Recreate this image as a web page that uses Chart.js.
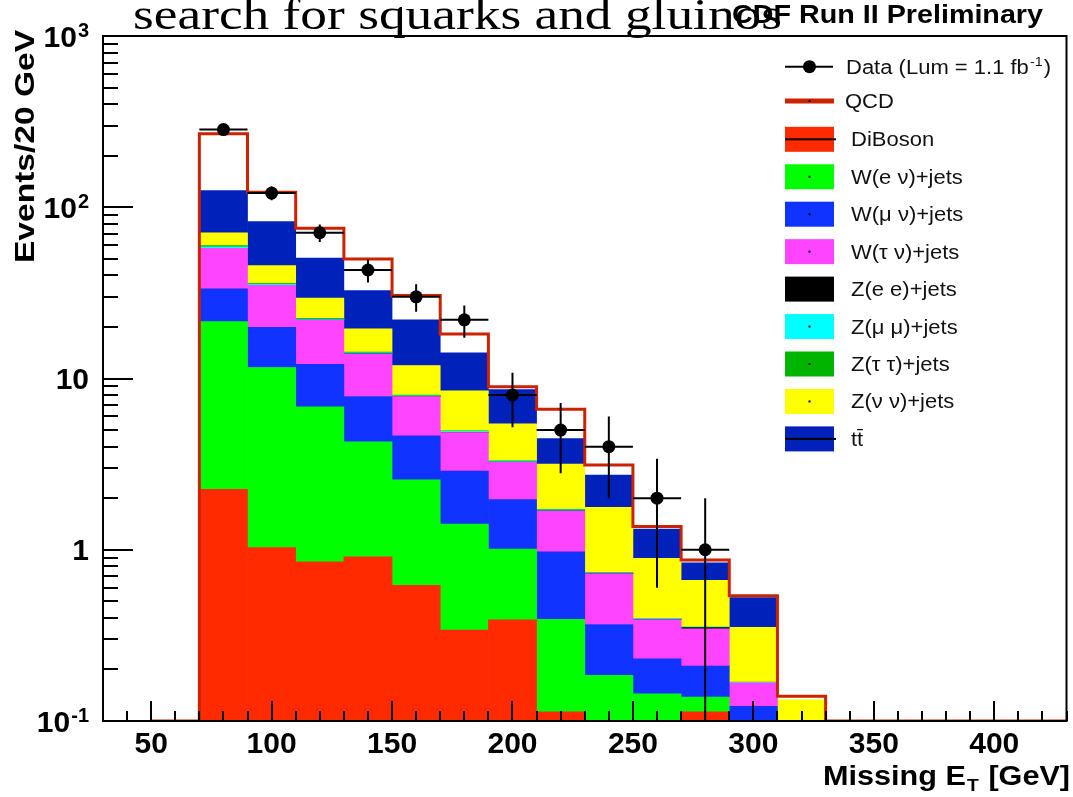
<!DOCTYPE html>
<html>
<head>
<meta charset="utf-8">
<script src="https://cdn.jsdelivr.net/npm/chart.js@4.4.1/dist/chart.umd.min.js"></script>
<style>
  html, body { margin: 0; padding: 0; background: #fff; }
  canvas { display: block; }
</style>
</head>
<body>
<canvas id="c" width="1073" height="797"></canvas>
<script>
// ---------------- data ----------------
const binCenters      = [80, 100, 120, 140, 160, 180, 200, 220, 240, 260, 280, 300, 320];
const emptyBinCenters = [60, 340, 360, 380, 400, 420];
const binWidth = 20;

const diboson = [2.25, 1.03, 0.85, 0.91, 0.62, 0.34, 0.39, 0.113, 0, 0, 0.113, 0, 0];
const wenu    = [19.25, 10.57, 5.98, 3.36, 1.94, 1.07, 0.62, 0.279, 0.185, 0.144, 0.025, 0, 0];
const wmunu   = [11.9, 8.3, 5.27, 3.58, 2.06, 1.47, 0.95, 0.581, 0.181, 0.087, 0.071, 0.122, 0];
const wtaunu  = [24.1, 15.1, 9.8, 6.05, 3.23, 1.95, 1.28, 0.707, 0.36, 0.16, 0.136, 0.045, 0];
const zee     = [0.1, 0.05, 0.03, 0.02, 0.01, 0.01, 0.01, 0.005, 0.003, 0.002, 0.006, 0, 0];
const zmumu   = [1.1, 0.5, 0.3, 0.2, 0.05, 0.08, 0.04, 0.025, 0.005, 0.003, 0.002, 0.001, 0];
const ztautau = [1.0, 0.35, 0.2, 0.15, 0.1, 0.03, 0.02, 0.01, 0.003, 0.002, 0.001, 0.001, 0];
const znunu   = [11.1, 9.7, 7.1, 5.23, 3.9, 3.53, 2.13, 1.44, 1.03, 0.494, 0.308, 0.183, 0.133];
const ttbar   = [54.2, 36.8, 20.9, 13.1, 10.1, 5.63, 3.17, 1.30, 0.96, 0.43, 0.177, 0.174, 0];
const qcd     = [144, 40, 24.9, 17.3, 8.5, 4.1, 0.34, 2.16, 0.40, 0.045, 0.031, 0.012, 0.0065];

const dataX   = [80, 100, 120, 140, 160, 180, 200, 220, 240, 260, 280];
const dataY   = [284, 121, 71, 43, 30, 22, 8, 5, 4, 2, 1];
const dataErr = [16.9, 11, 8.4, 6.6, 5.5, 4.7, 2.8, 2.2, 2, 1.4, 1];

const seriesNames = ['DiBoson', 'W(e \u03bd)+jets', 'W(\u03bc \u03bd)+jets', 'W(\u03c4 \u03bd)+jets',
                     'Z(e e)+jets', 'Z(\u03bc \u03bc)+jets', 'Z(\u03c4 \u03c4)+jets', 'Z(\u03bd \u03bd)+jets', 'tt\u0304'];
const dataLabelMain = 'Data (Lum = 1.1 fb';
const dataLabelSup  = '-1';
const dataLabelEnd  = ')';
const qcdLabel = 'QCD';

const xTickLabels = [50, 100, 150, 200, 250, 300, 350, 400];
const yDecades    = [0.1, 1, 10, 100, 1000];
const yTickBase   = ['10', '1', '10', '10', '10'];
const yTickExp    = ['-1', '', '', '2', '3'];

const titleText = 'search for squarks and gluinos';
const cdfText   = 'CDF Run II Preliminary';
const yTitle    = 'Events/20 GeV';

// ---------------- styling ----------------
const SANS  = '"Liberation Sans", Arial, Helvetica, sans-serif';
const SERIF = '"Liberation Serif", "Times New Roman", Times, serif';
const seriesColors = ['#ff2a00', '#00ff00', '#1133ff', '#ff44ff', '#000000', '#00ffff', '#00b400', '#ffff00', '#0022bb'];
const qcdColor = '#cc2200';
const X_MIN = 30, X_MAX = 430, Y_MIN = 0.1, Y_MAX = 1000;

const seriesValues = [diboson, wenu, wmunu, wtaunu, zee, zmumu, ztautau, znunu, ttbar];

// totals of the stack (top of the QCD outline)
const totals = binCenters.map((_, i) => seriesValues.reduce((s, arr) => s + arr[i], 0) + qcd[i]);

// outline points built from bins
const allBins = binCenters.map((c, i) => ({ c, v: totals[i] }))
  .concat(emptyBinCenters.map(c => ({ c, v: Y_MIN })))
  .sort((a, b) => a.c - b.c);
const outlinePts = [];
allBins.forEach(b => {
  outlinePts.push({ x: b.c - binWidth / 2, y: b.v });
  outlinePts.push({ x: b.c + binWidth / 2, y: b.v });
});

// error bars (vertical + horizontal), broken by nulls
const errPts = [];
dataX.forEach((x, i) => {
  errPts.push({ x, y: Math.max(dataY[i] - dataErr[i], Y_MIN) });
  errPts.push({ x, y: dataY[i] + dataErr[i] });
  errPts.push({ x, y: null });
  errPts.push({ x: x - binWidth / 2, y: dataY[i] });
  errPts.push({ x: x + binWidth / 2, y: dataY[i] });
  errPts.push({ x, y: null });
});

const datasets = [];
datasets.push({
  type: 'line', label: 'Data', stack: 'data',
  data: dataX.map((x, i) => ({ x, y: dataY[i] })),
  showLine: false, pointRadius: 6.5, pointHoverRadius: 6.5,
  pointBackgroundColor: '#000', pointBorderColor: '#000', pointBorderWidth: 0, order: 0
});
datasets.push({
  type: 'line', label: 'errors', stack: 'err', data: errPts,
  borderColor: '#000', borderWidth: 2, pointRadius: 0, spanGaps: false, tension: 0, fill: false, order: 1
});
datasets.push({
  type: 'line', label: qcdLabel, stack: 'outline', data: outlinePts,
  borderColor: qcdColor, borderWidth: 3, pointRadius: 0, tension: 0, fill: false, order: 2,
  borderJoinStyle: 'miter', borderCapStyle: 'butt'
});
seriesValues.forEach((vals, k) => {
  datasets.push({
    type: 'bar', label: seriesNames[k], stack: 'bkg',
    data: binCenters.map((x, i) => ({ x, y: vals[i] })),
    backgroundColor: seriesColors[k], borderWidth: 0,
    barPercentage: 1, categoryPercentage: 1, order: 3 + k
  });
});

// ---------------- text helpers ----------------
function drawFitted(ctx, txt, x, y, font, targetW, align) {
  ctx.save();
  ctx.font = font;
  const w = ctx.measureText(txt).width;
  const sx = targetW ? targetW / w : 1;
  ctx.translate(x, y);
  ctx.scale(sx, 1);
  ctx.textAlign = 'left';
  ctx.textBaseline = 'alphabetic';
  const x0 = align === 'right' ? -w : (align === 'center' ? -w / 2 : 0);
  ctx.fillText(txt, x0, 0);
  ctx.restore();
}

const decor = {
  id: 'decor',
  afterDraw(chart) {
    const { ctx, chartArea: a, scales: { x, y } } = chart;
    ctx.save();
    ctx.fillStyle = '#000';
    ctx.strokeStyle = '#000';
    ctx.lineWidth = 2;
    // inward tick marks (y: decades long, 2..9 short)
    y.ticks.forEach(t => {
      const py = Math.round(y.getPixelForValue(t.value));
      const major = yDecades.some(d => Math.abs(d - t.value) < 1e-9);
      ctx.beginPath(); ctx.moveTo(a.left, py); ctx.lineTo(a.left + (major ? 30 : 15), py); ctx.stroke();
    });
    // x: minor marks every 10 GeV, major on labelled values
    for (let v = X_MIN; v <= X_MAX; v += 10) {
      const px = Math.round(x.getPixelForValue(v));
      const major = xTickLabels.includes(v);
      ctx.beginPath(); ctx.moveTo(px, a.bottom); ctx.lineTo(px, a.bottom - (major ? 20 : 10)); ctx.stroke();
    }
    // frame
    ctx.strokeRect(a.left, a.top, a.right - a.left, a.bottom - a.top);

    // y tick labels with superscript exponents
    yDecades.forEach((d, i) => {
      const py = y.getPixelForValue(d);
      const right = a.left - 14;
      ctx.save();
      ctx.textBaseline = 'alphabetic';
      ctx.textAlign = 'left';
      ctx.font = 'bold 20px ' + SANS;
      const we = yTickExp[i] ? ctx.measureText(yTickExp[i]).width + 1 : 0;
      ctx.font = 'bold 30px ' + SANS;
      const wb = ctx.measureText(yTickBase[i]).width;
      const x0 = right - we - wb;
      ctx.fillText(yTickBase[i], x0, py + 10.5);
      if (yTickExp[i]) {
        ctx.font = 'bold 20px ' + SANS;
        ctx.fillText(yTickExp[i], x0 + wb + 1, py + 1);
      }
      ctx.restore();
    });

    // legend
    const LX0 = 785, LX1 = 834;
    const rowData = 66.7, rowQcd = 101, rowFirst = 139.3, rowStep = 37.45;
    const legFont = '20px ' + SANS;
    const legSx = 1.1;
    function legText(txt, x, yc) {
      ctx.save(); ctx.font = legFont; ctx.fillStyle = '#111';
      ctx.translate(x, yc + 7); ctx.scale(legSx, 1);
      ctx.fillText(txt, 0, 0); ctx.restore();
    }
    // Data entry
    ctx.lineWidth = 2;
    ctx.beginPath(); ctx.moveTo(LX0, rowData); ctx.lineTo(LX1 - 1, rowData); ctx.stroke();
    ctx.beginPath(); ctx.arc((LX0 + LX1) / 2, rowData, 6.5, 0, Math.PI * 2); ctx.fill();
    ctx.save(); ctx.font = legFont; ctx.fillStyle = '#111';
    ctx.translate(846, rowData + 7); ctx.scale(legSx, 1);
    ctx.fillText(dataLabelMain, 0, 0);
    const w1 = ctx.measureText(dataLabelMain).width;
    ctx.font = '13px ' + SANS;
    ctx.fillText(dataLabelSup, w1 + 1, -8);
    const w2 = ctx.measureText(dataLabelSup).width;
    ctx.font = legFont;
    ctx.fillText(dataLabelEnd, w1 + w2 + 2, 0);
    ctx.restore();
    // QCD entry
    ctx.fillStyle = qcdColor;
    ctx.fillRect(LX0, rowQcd - 2.5, LX1 - LX0, 5);
    ctx.fillStyle = '#000';
    ctx.fillRect((LX0 + LX1) / 2 - 1, rowQcd - 1, 2, 2);
    legText(qcdLabel, 845, rowQcd);
    // stacked components
    seriesNames.forEach((name, k) => {
      const yc = rowFirst + k * rowStep;
      ctx.fillStyle = seriesColors[k];
      ctx.fillRect(LX0, yc - 12.5, LX1 - LX0, 25);
      ctx.fillStyle = '#000';
      if (k === 0 || k === seriesNames.length - 1) {
        ctx.fillRect(LX0, yc - 1, LX1 - LX0 + 2, 2);
      } else {
        ctx.fillRect((LX0 + LX1) / 2 - 1, yc - 1, 2, 2);
      }
      legText(name, 851, yc);
    });

    // axis titles
    ctx.fillStyle = '#000';
    ctx.save();
    ctx.translate(34, 263);
    ctx.rotate(-Math.PI / 2);
    ctx.font = 'bold 27px ' + SANS;
    const yw = ctx.measureText(yTitle).width;
    ctx.scale(233 / yw, 1);
    ctx.fillText(yTitle, 0, 0);
    ctx.restore();

    ctx.save();
    const big = 'bold 27px ' + SANS, small = 'bold 17px ' + SANS;
    ctx.font = big; const p1 = 'Missing E', p3 = ' [GeV]';
    const wa = ctx.measureText(p1).width, wc = ctx.measureText(p3).width;
    ctx.font = small; const wb = ctx.measureText('T').width;
    const tot = wa + wb + 2 + wc;
    const sx = 247 / tot;
    ctx.translate(1070 - 247, 785);
    ctx.scale(sx, 1);
    ctx.font = big; ctx.fillText(p1, 0, 0);
    ctx.font = small; ctx.fillText('T', wa + 1, 6);
    ctx.font = big; ctx.fillText(p3, wa + wb + 2, 0);
    ctx.restore();

    // titles
    drawFitted(ctx, cdfText, 732, 23, 'bold 25px ' + SANS, 311, 'left');
    drawFitted(ctx, titleText, 133, 29, '45px ' + SERIF, 649, 'left');
    ctx.restore();
  }
};

new Chart(document.getElementById('c'), {
  type: 'bar',
  data: { datasets },
  options: {
    responsive: false,
    animation: false,
    devicePixelRatio: 1,
    events: [],
    layout: { padding: { top: 36, right: 1, bottom: 0, left: 0 } },
    plugins: { legend: { display: false }, tooltip: { enabled: false }, title: { display: false } },
    scales: {
      x: {
        type: 'linear', min: X_MIN, max: X_MAX, stacked: true, offset: false,
        grid: { display: false, drawTicks: false, offset: false },
        border: { display: false },
        afterBuildTicks: s => { s.ticks = xTickLabels.map(v => ({ value: v })); },
        afterFit: s => { s.height = 76; },
        ticks: {
          autoSkip: false, maxRotation: 0, minRotation: 0, padding: 6, color: '#000',
          font: { family: SANS, size: 30, weight: 'bold', lineHeight: 1.2 },
          callback: v => String(v)
        }
      },
      y: {
        type: 'logarithmic', min: Y_MIN, max: Y_MAX, stacked: true,
        grid: { display: false, drawTicks: false },
        border: { display: false },
        afterBuildTicks: s => {
          const t = [];
          for (let e = -1; e <= 3; e++) {
            for (let m = 1; m <= 9; m++) {
              const v = Number((m * Math.pow(10, e)).toPrecision(3));
              if (v >= Y_MIN && v <= Y_MAX) t.push({ value: v });
            }
          }
          s.ticks = t;
        },
        afterFit: s => { s.width = 103; },
        ticks: { display: false }
      }
    }
  },
  plugins: [decor]
});
</script>
</body>
</html>
